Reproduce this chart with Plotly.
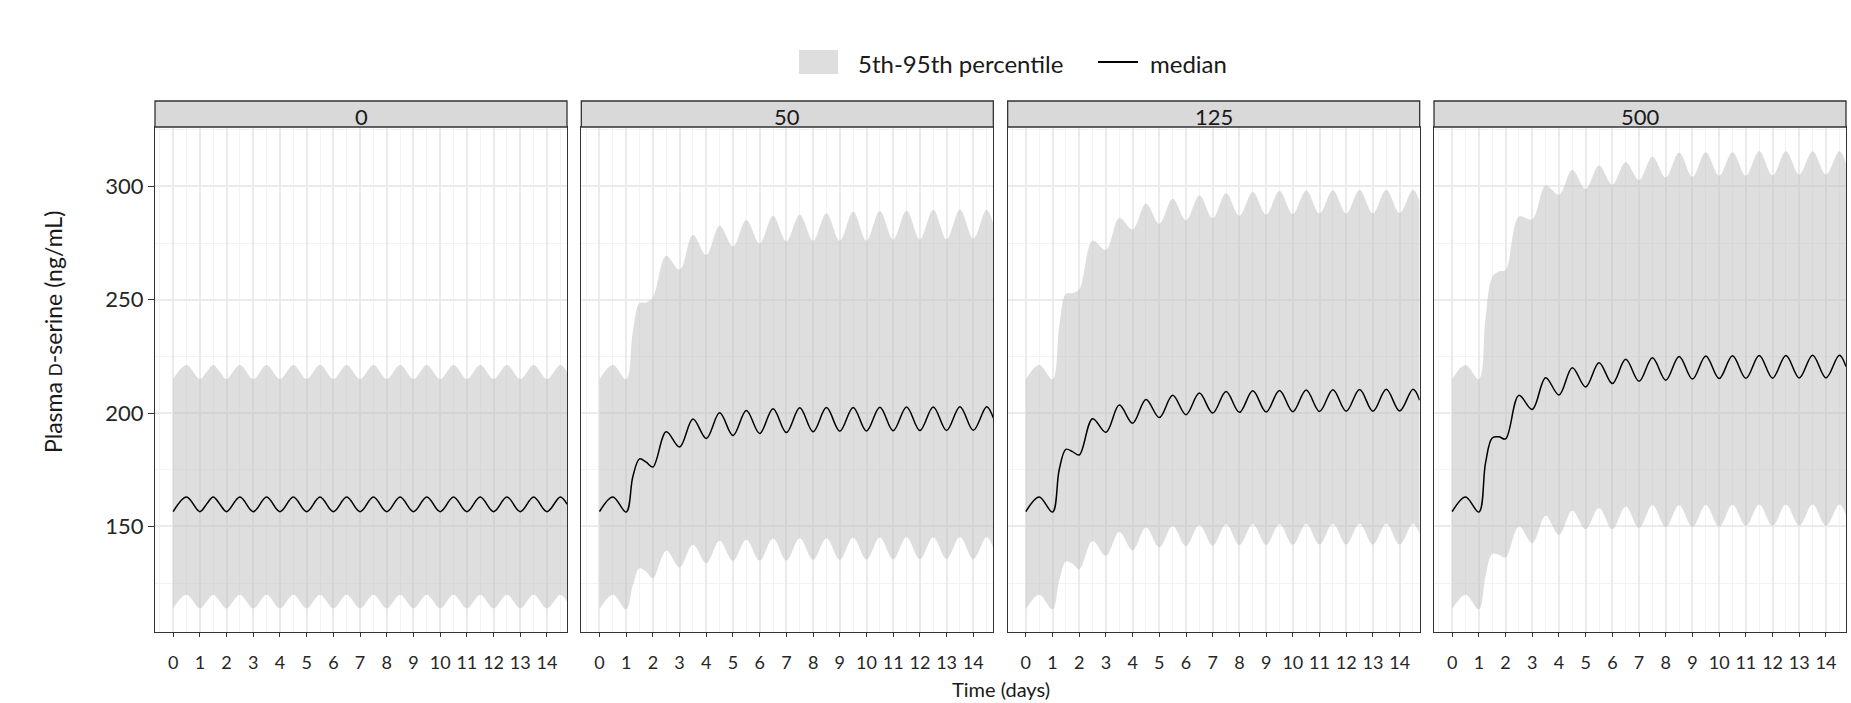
import plotly.graph_objects as go

# Simulated plasma D-serine profiles by daily dose (mg), days 0-14.75
DOSES = ["0", "50", "125", "500"]

DAYS = [0, 0.5, 1, 1.25, 1.5, 1.75, 2,
        2.5, 3, 3.5, 4, 4.5, 5, 5.5, 6, 6.5, 7, 7.5, 8, 8.5, 9, 9.5, 10,
        10.5, 11, 11.5, 12, 12.5, 13, 13.5, 14, 14.5,
        14.75]

# median
MED_0 = [156.5, 163.0, 156.5, 159.8, 163.0, 159.8, 156.5,
         163.0, 156.5, 163.0, 156.5, 163.0, 156.5, 163.0, 156.5, 163.0, 156.5, 163.0, 156.5,
         163.0, 156.5, 163.0, 156.5, 163.0, 156.5, 163.0, 156.5, 163.0, 156.5, 163.0, 156.5, 163.0,
         159.8]
MED_50 = [156.5, 163.0, 156.3, 172.0, 179.8, 178.3, 176.2,
          191.7, 185.0, 197.4, 188.8, 200.1, 190.1, 201.1, 191.0, 201.9, 191.4, 202.3, 191.7,
          202.4, 192.0, 202.5, 192.1, 202.6, 192.2, 202.7, 192.3, 202.7, 192.3, 202.8, 192.4, 202.8,
          197.8]
MED_125 = [156.5, 163.0, 156.3, 175.0, 184.0, 183.0, 181.5,
           197.5, 191.5, 203.5, 195.5, 206.0, 198.0, 207.8, 199.3, 208.8, 200.0, 209.5, 200.3,
           209.8, 200.5, 210.0, 200.6, 210.2, 200.7, 210.3, 200.8, 210.4, 200.8, 210.5, 200.9, 210.5,
           205.7]
MED_500 = [156.5, 163.0, 156.3, 178.0, 189.0, 189.5, 188.6,
           207.8, 201.6, 215.6, 208.0, 220.0, 211.5, 222.2, 213.0, 223.7, 214.0, 224.4, 214.5,
           225.0, 215.0, 225.2, 215.2, 225.3, 215.3, 225.4, 215.4, 225.4, 215.5, 225.5, 215.5, 225.5,
           220.5]

# 95th percentile
UP_0 = [215.0, 221.2, 215.0, 218.1, 221.2, 218.1, 215.0,
        221.2, 215.0, 221.2, 215.0, 221.2, 215.0, 221.2, 215.0, 221.2, 215.0, 221.2, 215.0,
        221.2, 215.0, 221.2, 215.0, 221.2, 215.0, 221.2, 215.0, 221.2, 215.0, 221.2, 215.0, 221.2,
        218.1]
UP_50 = [214.9, 221.2, 214.9, 236.0, 248.5, 248.8, 251.0,
         269.4, 263.2, 278.6, 269.7, 282.6, 273.5, 285.2, 274.8, 287.0, 275.7, 287.5, 276.0,
         288.2, 276.0, 288.8, 276.0, 289.1, 276.5, 289.2, 276.6, 289.7, 276.6, 289.7, 277.0, 289.7,
         283.4]
UP_125 = [214.9, 221.2, 214.9, 238.0, 252.5, 253.0, 254.5,
          276.0, 272.0, 286.0, 281.0, 292.5, 283.5, 294.5, 285.0, 296.0, 286.0, 297.0, 287.0,
          297.5, 287.5, 298.0, 287.8, 298.2, 288.0, 298.3, 288.0, 298.4, 288.0, 298.5, 288.2, 298.5,
          293.3]
UP_500 = [214.9, 221.2, 214.9, 242.0, 260.0, 262.5, 263.1,
          286.6, 285.5, 300.3, 296.3, 307.2, 298.8, 309.2, 300.8, 310.6, 302.8, 313.1, 304.0,
          314.8, 304.2, 315.1, 304.7, 315.1, 304.7, 315.5, 304.8, 315.5, 305.2, 315.5, 305.2, 315.5,
          310.3]

# 5th percentile
LO_0 = [113.8, 119.8, 113.8, 116.8, 119.8, 116.8, 113.8,
        119.8, 113.8, 119.8, 113.8, 119.8, 113.8, 119.8, 113.8, 119.8, 113.8, 119.8, 113.8,
        119.8, 113.8, 119.8, 113.8, 119.8, 113.8, 119.8, 113.8, 119.8, 113.8, 119.8, 113.8, 119.8,
        116.8]
LO_50 = [113.4, 119.8, 113.4, 124.0, 131.5, 130.0, 127.1,
         139.3, 131.9, 141.9, 133.8, 143.7, 134.8, 144.1, 134.9, 144.6, 134.9, 144.8, 135.3,
         144.8, 135.3, 145.1, 135.4, 145.1, 135.5, 145.2, 135.5, 145.2, 135.6, 145.3, 135.6, 145.3,
         140.4]
LO_125 = [113.4, 119.8, 113.4, 126.0, 134.5, 133.5, 131.0,
          143.5, 137.0, 147.5, 139.5, 149.5, 140.8, 150.2, 141.3, 150.6, 141.5, 150.9, 141.7,
          151.0, 141.8, 151.1, 141.9, 151.2, 142.0, 151.2, 142.0, 151.3, 142.0, 151.3, 142.0, 151.3,
          146.6]
LO_500 = [113.4, 119.8, 113.4, 128.0, 137.8, 137.5, 136.3,
          150.0, 142.6, 154.7, 146.3, 156.9, 148.8, 158.1, 148.8, 158.8, 149.3, 159.3, 149.7,
          159.3, 149.7, 159.4, 149.8, 159.5, 150.3, 159.6, 150.3, 159.6, 150.3, 159.6, 150.3, 159.6,
          155.0]

MEDIAN = [MED_0, MED_50, MED_125, MED_500]
UPPER = [UP_0, UP_50, UP_125, UP_500]
LOWER = [LO_0, LO_50, LO_125, LO_500]

X_TICKS = list(range(0, 15))
Y_TICKS = [150, 200, 250, 300]

FONT = "Lato"
BAND = "rgba(190,190,190,0.5)"
BORDER = "#333333"
W, H = 1851, 703
ML, MR, MT, MB = 155, 5, 127, 71
PW, PH = W - ML - MR, H - MT - MB
PANEL_W = 412
GAP = (PW - 4 * PANEL_W) / 3
STRIP_H = 26


def px_x(p):
    return (p - ML) / PW


def px_y(p):
    return (H - MB - p) / PH


fig = go.Figure()
layout = {}
for i, dose in enumerate(DOSES):
    k = "" if i == 0 else str(i + 1)
    xa, ya = "x" + k, "y" + k
    fig.add_trace(go.Scatter(x=DAYS, y=LOWER[i], mode="lines", line=dict(width=0, shape="spline"),
                             xaxis=xa, yaxis=ya, showlegend=False, hoverinfo="skip"))
    fig.add_trace(go.Scatter(x=DAYS, y=UPPER[i], mode="lines", line=dict(width=0, shape="spline"),
                             fill="tonexty", fillcolor=BAND,
                             xaxis=xa, yaxis=ya, showlegend=False, hoverinfo="skip"))
    fig.add_trace(go.Scatter(x=DAYS, y=MEDIAN[i], mode="lines",
                             line=dict(color="black", width=1.5, shape="spline"),
                             xaxis=xa, yaxis=ya, showlegend=False))

    x0 = i * (PANEL_W + GAP) / PW
    x1 = (i * (PANEL_W + GAP) + PANEL_W) / PW
    layout["xaxis" + k] = dict(
        domain=[x0, x1], anchor=ya, range=[-0.68, 14.75],
        tickmode="array", tickvals=X_TICKS, ticktext=[str(v) for v in X_TICKS],
        ticks="outside", ticklen=4, tickwidth=1.2, tickcolor=BORDER,
        ticklabelstandoff=10,
        tickfont=dict(family=FONT, size=18, color="#262626"),
        showgrid=True, gridcolor="#ebebeb", gridwidth=1.5,
        minor=dict(dtick=0.5, tick0=0, showgrid=True, gridcolor="#f3f3f3", gridwidth=1),
        showline=True, linecolor=BORDER, linewidth=1.3, mirror=True,
        zeroline=False, layer="above traces",
    )
    layout["yaxis" + k] = dict(
        domain=[0, 1], anchor=xa, range=[103.4, 326.2],
        tickmode="array", tickvals=Y_TICKS, ticktext=[str(v) for v in Y_TICKS],
        ticks="outside" if i == 0 else "", ticklen=6, tickwidth=1.2, tickcolor=BORDER,
        showticklabels=(i == 0),
        tickfont=dict(family=FONT, size=22, color="#262626"),
        showgrid=True, gridcolor="#ebebeb", gridwidth=1.5,
        minor=dict(dtick=25, tick0=125, showgrid=True, gridcolor="#f3f3f3", gridwidth=1),
        showline=True, linecolor=BORDER, linewidth=1.3, mirror=True,
        zeroline=False, layer="above traces",
    )

shapes = []
annotations = []
for i, dose in enumerate(DOSES):
    k = "" if i == 0 else str(i + 1)
    # facet strip
    shapes.append(dict(type="rect", xref="x" + k + " domain", yref="y" + k + " domain",
                       x0=0, x1=1, y0=1, y1=1 + STRIP_H / PH,
                       fillcolor="#d9d9d9", line=dict(color=BORDER, width=1.3), layer="above"))
    annotations.append(dict(text=dose, xref="x" + k + " domain", yref="y" + k + " domain",
                            x=0.5, y=1 + (STRIP_H / 2 - 3) / PH, xanchor="center", yanchor="middle",
                            showarrow=False, font=dict(family=FONT, size=22, color="#1a1a1a")))

# legend
shapes.append(dict(type="rect", xref="paper", yref="paper",
                   x0=px_x(799), x1=px_x(838), y0=px_y(74), y1=px_y(50),
                   fillcolor=BAND, line=dict(width=0)))
shapes.append(dict(type="line", xref="paper", yref="paper",
                   x0=px_x(1098), x1=px_x(1138), y0=px_y(62), y1=px_y(62),
                   line=dict(color="black", width=1.8)))
annotations.append(dict(text="5th-95th percentile", xref="paper", yref="paper",
                        x=px_x(856), y=px_y(63), xanchor="left", yanchor="middle", showarrow=False,
                        font=dict(family=FONT, size=24, color="#1a1a1a")))
annotations.append(dict(text="median", xref="paper", yref="paper",
                        x=px_x(1148), y=px_y(63), xanchor="left", yanchor="middle", showarrow=False,
                        font=dict(family=FONT, size=24, color="#1a1a1a")))

# axis titles
annotations.append(dict(text='Plasma <span style="font-size:17px">D</span>-serine (ng/mL)',
                        xref="paper", yref="paper", x=px_x(53), y=px_y(332),
                        xanchor="center", yanchor="middle", textangle=-90, showarrow=False,
                        font=dict(family=FONT, size=23, color="#1a1a1a")))
annotations.append(dict(text="Time (days)", xref="paper", yref="paper",
                        x=0.5, y=px_y(689), xanchor="center", yanchor="middle", showarrow=False,
                        font=dict(family=FONT, size=20, color="#1a1a1a")))

fig.update_layout(
    width=W, height=H,
    margin=dict(l=ML, r=MR, t=MT, b=MB),
    paper_bgcolor="white", plot_bgcolor="white",
    showlegend=False,
    shapes=shapes, annotations=annotations,
    **layout,
)

fig.write_html("out.html")
